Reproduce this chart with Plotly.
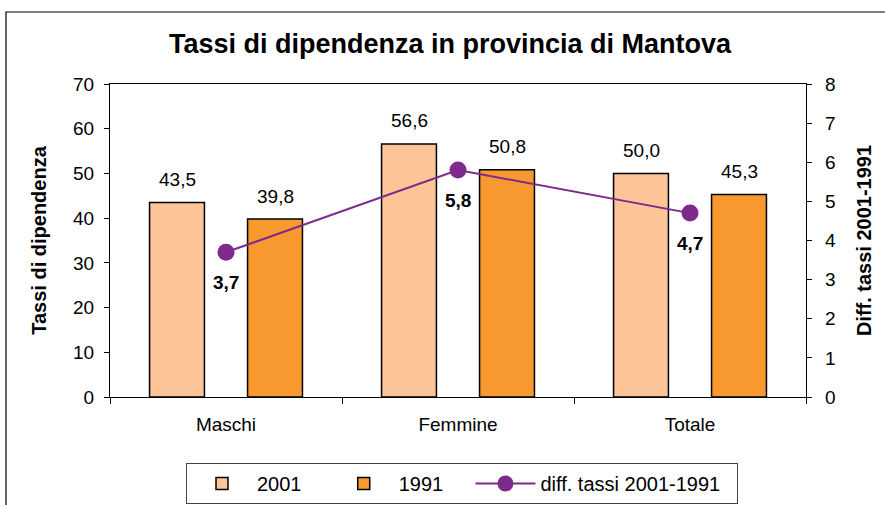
import plotly.graph_objects as go

categories = ["Maschi", "Femmine", "Totale"]
tassi_2001 = [43.5, 56.6, 50.0]
tassi_1991 = [39.8, 50.8, 45.3]
diff_tassi = [3.7, 5.8, 4.7]
series_names = ["2001", "1991", "diff. tassi 2001-1991"]

FONT = "Liberation Sans, Arial, sans-serif"
C2001 = "#FDC597"
C1991 = "#F7992F"
CLINE = "#7E2A8C"
PAD = "\u00a0" * 4


def fmt(v):
    return f"{v:.1f}".replace(".", ",")


fig = go.Figure()
fig.add_trace(go.Bar(
    x=categories, y=tassi_2001, name=series_names[0] + PAD,
    marker=dict(color=C2001, line=dict(color="black", width=1.5)),
))
fig.add_trace(go.Bar(
    x=categories, y=tassi_1991, name=series_names[1] + PAD,
    marker=dict(color=C1991, line=dict(color="black", width=1.5)),
))
fig.add_trace(go.Scatter(
    x=categories, y=diff_tassi, name=series_names[2] + "\u00a0\u00a0", yaxis="y2",
    mode="lines+markers",
    line=dict(color=CLINE, width=2),
    marker=dict(color=CLINE, size=17),
    cliponaxis=False,
))

annotations = []
for cat, v in zip(categories, tassi_2001):
    annotations.append(dict(x=cat, y=v, xref="x", yref="y", text=fmt(v), showarrow=False,
                            xshift=-49, yshift=23, yanchor="middle",
                            font=dict(size=19, family=FONT, color="black")))
for cat, v in zip(categories, tassi_1991):
    annotations.append(dict(x=cat, y=v, xref="x", yref="y", text=fmt(v), showarrow=False,
                            xshift=49, yshift=23, yanchor="middle",
                            font=dict(size=19, family=FONT, color="black")))
for cat, v in zip(categories, diff_tassi):
    annotations.append(dict(x=cat, y=v, xref="x", yref="y2", text="<b>" + fmt(v) + "</b>",
                            showarrow=False, yshift=-30, yanchor="middle",
                            font=dict(size=19, family=FONT, color="black")))

fig.update_layout(
    width=885, height=505,
    margin=dict(l=110, r=79, t=84, b=108),
    paper_bgcolor="white", plot_bgcolor="white",
    separators=",.",
    font=dict(family=FONT, size=19, color="black"),
    title=dict(text="<b>Tassi di dipendenza in provincia di Mantova</b>",
               x=450 / 885, xanchor="center", y=1 - 44 / 505, yanchor="middle",
               font=dict(size=27, family=FONT, color="black")),
    barmode="group", bargap=0.155, bargroupgap=0.44,
    showlegend=True,
    legend=dict(orientation="h", xref="container", yref="container",
                x=462 / 885, xanchor="center", y=1 - 463 / 505, yanchor="top",
                bgcolor="white", bordercolor="#444", borderwidth=1,
                font=dict(size=20, family=FONT), tracegroupgap=0, itemwidth=60),
    xaxis=dict(showline=True, linecolor="black", linewidth=1.2, mirror=True,
               ticks="outside", ticklen=6, tickcolor="black", tickson="boundaries",
               tickfont=dict(size=19), showgrid=False, ticklabelstandoff=10),
    yaxis=dict(range=[0, 70], dtick=10, showline=True, linecolor="black", linewidth=1.2,
               ticks="outside", ticklen=5, tickcolor="black", showgrid=False, zeroline=False,
               tickfont=dict(size=19), ticklabelstandoff=6,
               title=dict(text="<b>Tassi di dipendenza</b>", font=dict(size=20), standoff=20)),
    yaxis2=dict(range=[0, 8], dtick=1, overlaying="y", side="right", showline=True,
                linecolor="black", linewidth=1.2, ticks="outside", ticklen=5, tickcolor="black",
                showgrid=False, zeroline=False, tickfont=dict(size=19), ticklabelstandoff=9,
                title=dict(text="<b>Diff. tassi 2001-1991</b>", font=dict(size=20), standoff=22)),
    yaxis3=dict(range=[0, 70], dtick=10, overlaying="y", side="left", showline=False,
                ticks="inside", ticklen=5, tickcolor="black", showticklabels=False,
                showgrid=False, zeroline=False),
    yaxis4=dict(range=[0, 8], dtick=1, overlaying="y", side="right", showline=False,
                ticks="inside", ticklen=5, tickcolor="black", showticklabels=False,
                showgrid=False, zeroline=False),
    annotations=annotations,
    shapes=[dict(type="rect", xref="paper", yref="paper",
                 x0=(6 - 110) / 696, x1=(1000 - 110) / 696,
                 y0=(397 - 700) / 313, y1=(397 - 12) / 313,
                 line=dict(color="black", width=1.2), fillcolor="rgba(0,0,0,0)", layer="below")],
)

fig.write_html("out.html", config={"displayModeBar": False},
               post_script="document.body.style.margin='0';")
